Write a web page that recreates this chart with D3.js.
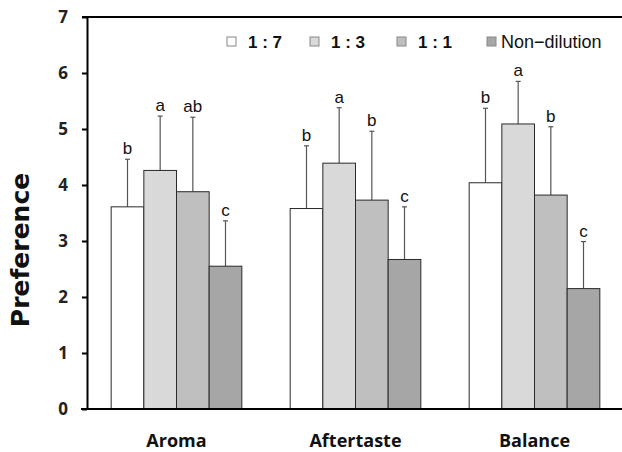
<!DOCTYPE html>
<html>
<head>
<meta charset="utf-8">
<script src="https://cdn.jsdelivr.net/npm/d3@7"></script>
<style>
  body { margin: 0; background: #fff; }
</style>
</head>
<body>
<svg id="svg1"></svg>
<script>
const width = 622;
const height = 452;

const categories = ["Aroma", "Aftertaste", "Balance"];
const series = ["1 : 7", "1 : 3", "1 : 1", "Non\u2212dilution"];
const colors = ["#ffffff", "#d9d9d9", "#bfbfbf", "#a6a6a6"];
// means per series, in category order
const means = [
  [3.61, 3.58, 4.04],
  [4.26, 4.39, 5.09],
  [3.88, 3.73, 3.82],
  [2.55, 2.67, 2.15]
];
// upper error bar ends
const errTop = [
  [4.46, 4.70, 5.37],
  [5.23, 5.38, 5.85],
  [5.21, 4.96, 5.04],
  [3.36, 3.61, 2.99]
];
const letters = [
  ["b", "b", "b"],
  ["a", "a", "a"],
  ["ab", "b", "b"],
  ["c", "c", "c"]
];
const yTicks = [0, 1, 2, 3, 4, 5, 6, 7];

const svg = d3.select("#svg1")
    .attr("width", width)
    .attr("height", height)
    .style("font-family", "'Liberation Sans', Arial, sans-serif");

const x0 = d3.scaleBand()
    .domain(categories)
    .range([87, 624])
    .paddingInner(0.27)
    .paddingOuter(0.135);

const x1 = d3.scaleBand()
    .domain(series)
    .range([0, x0.bandwidth()]);

const y = d3.scaleLinear()
    .domain([0, 7])
    .range([409, 17]);

// frame: top line, y axis
svg.append("line")
    .attr("x1", 82).attr("x2", width)
    .attr("y1", y(7)).attr("y2", y(7))
    .attr("stroke", "#000").attr("stroke-width", 2);

const yAxis = svg.append("g")
    .attr("transform", "translate(87,0)")
    .call(d3.axisLeft(y).tickValues(yTicks).tickFormat(d3.format("d")).tickSize(5).tickSizeOuter(0));
yAxis.select(".domain").attr("stroke", "#000").attr("stroke-width", 2);
yAxis.selectAll(".tick line").attr("stroke", "#000").attr("stroke-width", 2);
yAxis.selectAll(".tick text")
    .attr("x", -19)
    .style("font-family", "'Open Sans', sans-serif")
    .style("font-size", "17px")
    .style("font-weight", "bold")
    .attr("fill", "#222");

// data rows
const rows = [];
series.forEach((s, i) => {
  categories.forEach((c, j) => {
    rows.push({ s, c, i, v: means[i][j], e: errTop[i][j], l: letters[i][j] });
  });
});

const bars = svg.append("g").selectAll("g")
    .data(rows)
    .join("g")
    .attr("transform", d => `translate(${x0(d.c) + x1(d.s)},0)`);

// error bars (upper only)
bars.append("line")
    .attr("x1", x1.bandwidth() / 2).attr("x2", x1.bandwidth() / 2)
    .attr("y1", d => y(d.v)).attr("y2", d => y(d.e))
    .attr("stroke", "#555").attr("stroke-width", 1.2);
bars.append("line")
    .attr("x1", x1.bandwidth() / 2 - 2.5).attr("x2", x1.bandwidth() / 2 + 2.5)
    .attr("y1", d => y(d.e)).attr("y2", d => y(d.e))
    .attr("stroke", "#555").attr("stroke-width", 1.2);

bars.append("rect")
    .attr("x", 0)
    .attr("y", d => y(d.v))
    .attr("width", x1.bandwidth())
    .attr("height", d => y(0) - y(d.v))
    .attr("fill", d => colors[d.i])
    .attr("stroke", "#2a2a2a")
    .attr("stroke-width", 1);

bars.append("text")
    .attr("x", x1.bandwidth() / 2)
    .attr("y", d => y(d.e) - 5)
    .attr("text-anchor", "middle")
    .style("font-size", "17px")
    .attr("fill", "#111")
    .text(d => d.l);

// x axis line
svg.append("line")
    .attr("x1", 81).attr("x2", width)
    .attr("y1", y(0)).attr("y2", y(0))
    .attr("stroke", "#000").attr("stroke-width", 2);

svg.append("g").selectAll("text")
    .data(categories)
    .join("text")
    .attr("x", d => x0(d) + x0.bandwidth() / 2)
    .attr("y", 447)
    .attr("text-anchor", "middle")
    .style("font-family", "'Open Sans', sans-serif")
    .style("font-size", "18px")
    .style("font-weight", "bold")
    .attr("fill", "#111")
    .text(d => d);

svg.append("text")
    .attr("transform", "translate(20,250) rotate(-90)")
    .attr("text-anchor", "middle")
    .attr("dy", "0.35em")
    .style("font-family", "'DejaVu Sans', sans-serif")
    .style("font-size", "25px")
    .style("font-weight", "bold")
    .attr("fill", "#111")
    .text("Preference");

// legend
const legendX = [227, 310, 397, 487];
const legend = svg.append("g").selectAll("g")
    .data(series)
    .join("g")
    .attr("transform", (d, i) => `translate(${legendX[i]},41.5)`);
legend.append("rect")
    .attr("x", 0).attr("y", -4.5)
    .attr("width", 9).attr("height", 9)
    .attr("fill", (d, i) => colors[i])
    .attr("stroke", "#888");
legend.append("text")
    .attr("x", (d, i) => i === 3 ? 14 : 21)
    .attr("dy", "0.36em")
    .style("font-size", (d, i) => i === 3 ? "18px" : "17px")
    .style("font-weight", (d, i) => i === 3 ? "normal" : "bold")
    .attr("fill", "#111")
    .text(d => d);
</script>
</body>
</html>
